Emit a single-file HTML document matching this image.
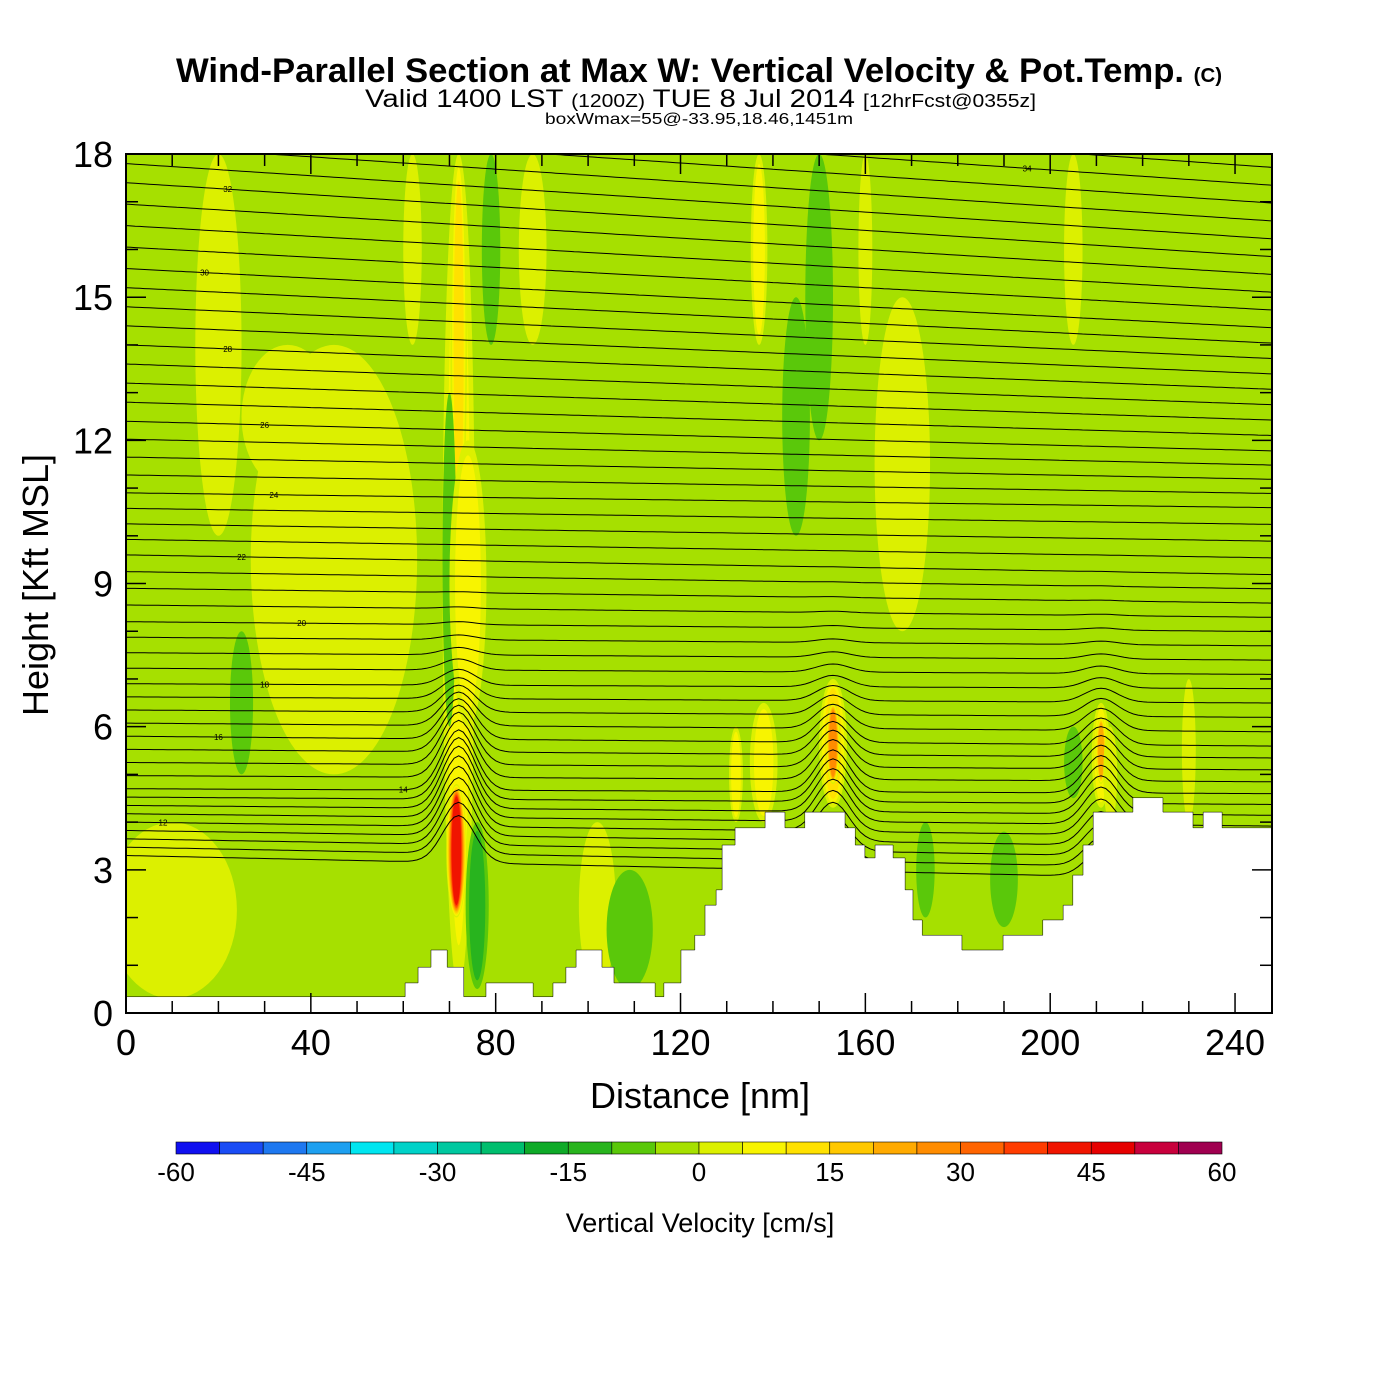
<!DOCTYPE html>
<html><head><meta charset="utf-8"><style>
html,body{margin:0;padding:0;background:#fff;}
svg{display:block;font-family:"Liberation Sans",Arial,sans-serif;}
</style></head><body>
<svg id="chart" width="1400" height="1400" viewBox="0 0 1400 1400" xmlns="http://www.w3.org/2000/svg">
<defs><clipPath id="plotclip"><rect x="126" y="154" width="1146" height="859"/></clipPath></defs>
<text x="176" y="82" font-size="34" font-weight="bold" textLength="1046" lengthAdjust="spacingAndGlyphs">Wind-Parallel Section at Max W: Vertical Velocity &amp; Pot.Temp. <tspan font-size="20">(C)</tspan></text>
<text x="365" y="107" font-size="25" textLength="671" lengthAdjust="spacingAndGlyphs">Valid 1400 LST <tspan font-size="18">(1200Z)</tspan> TUE 8 Jul 2014 <tspan font-size="18">[12hrFcst@0355z]</tspan></text>
<text x="545" y="124" font-size="16" textLength="308" lengthAdjust="spacingAndGlyphs">boxWmax=55@-33.95,18.46,1451m</text>
<g id="plot" clip-path="url(#plotclip)"></g>
<rect x="126" y="154" width="1146" height="859" fill="none" stroke="#000" stroke-width="2"/>
<g id="axes"></g>
<text x="700" y="1108" text-anchor="middle" font-size="36">Distance [nm]</text>
<text transform="translate(48,585) rotate(-90)" text-anchor="middle" font-size="36">Height [Kft MSL]</text>
<g id="colorbar"></g>
<text x="700" y="1232" text-anchor="middle" font-size="27">Vertical Velocity [cm/s]</text>
</svg>
<script>
// ---- data ----
const xTicks=[0,40,80,120,160,200,240];
const yTicks=[0,3,6,9,12,15,18];
const cbLevels=[-60,-55,-50,-45,-40,-35,-30,-25,-20,-15,-10,-5,0,5,10,15,20,25,30,35,40,45,50,55,60];
const cbLabels=[-60,-45,-30,-15,0,15,30,45,60];
const cbColors=["#1010f0","#1a4cf5","#1e78f0","#1ea0f0","#00e6f0","#00d2c8","#00c8a0","#00be6e","#0faa28","#28b41e","#5ac80a","#a6e000","#dcf000","#f8f400","#ffe100","#ffc800","#ffaa00","#ff8c00","#ff6400","#ff3c00","#f01400","#e60000","#c8003c","#a00050"];
const terrainX=[0,60.4,63.2,66,69.5,73.1,77.9,88.1,92.4,95.2,97.4,103,105.6,114.5,116.4,120.1,123.1,125.3,127.7,129,131.8,138.3,142.6,146.9,155.6,157.8,159.9,162.1,166,168.6,170.3,172.3,180.9,189.8,198.4,202.8,204.9,207.1,209.3,217.9,224.4,230.9,233.1,237.2,248];
const terrainH=[0.34,0.63,0.96,1.32,0.96,0.34,0.63,0.34,0.63,0.96,1.32,0.96,0.63,0.34,0.63,1.32,1.63,2.26,2.58,3.52,3.88,4.21,3.88,4.21,3.88,3.52,3.25,3.52,3.25,2.58,1.95,1.63,1.32,1.63,1.95,2.26,2.89,3.52,4.21,4.51,4.21,3.88,4.21,3.88,3.88];
// w features: center distance, bottom kft, top kft, half-width nm, value cm/s
const featX=[10,38,45,20,72,72,76,70,79,62,102,109,138,132,137,145,150,153,153,168,173,190,205,211,211,213,88,25,205,230,160,74,35,71.5];
const featB=[0.3,0.3,5,10,0.5,10,0.5,6,14,14,0.5,0.5,4,4,14,10,12,4.3,4.8,8,2,1.8,14,4.3,4.8,4,14,5,4.5,4,14,6,11,2];
const featT=[4,3,14,18,18,18,4,13,18,18,4,3,6.5,6,18,15,18,7,6.5,15,4,3.8,18,6.5,6.2,6,18,8,6,7,18,12,14,4.8];
const featW=[14,22,18,5,3.5,1.8,2.5,1.5,2,2,4,5,3,1.5,1.8,3,3,3,1.6,6,2,3,2,2,1.2,1.5,3,2.5,2,1.5,1.5,4,10,2.2];
const featV=[3,-2,3,3,8,14,-12,-10,-8,3,3,-8,8,8,10,-8,-8,12,30,3,-10,-10,3,8,25,3,3,-7,-7,3,3,8,3,45];
const thetaLabels=[12,14,16,18,20,22,24,26,28,30,32,34];
const hLeft=[4.0,4.7,5.8,6.9,8.2,9.6,10.9,12.4,14.0,15.6,17.4,19.0];
const hRight=[3.7,4.6,5.6,6.8,8.0,9.2,10.6,11.8,13.1,14.4,15.9,17.4];
const bumpX=[72,153,211];
const bumpAmp=[1.3,0.9,0.8];

// ---- scales ----
const sx=d=>126+d*4.621, sy=h=>1013-h*47.72;
const NS="http://www.w3.org/2000/svg";
function mk(tag,attrs,parent){const e=document.createElementNS(NS,tag);for(const k in attrs)e.setAttribute(k,attrs[k]);parent.appendChild(e);return e;}
function colorFor(v){for(let i=0;i<cbColors.length;i++){if(v<cbLevels[i+1])return cbColors[i];}return cbColors[cbColors.length-1];}
const plot=document.getElementById('plot');
const bg=mk('rect',{x:126,y:154,width:1146,height:859,fill:colorFor(-2)},plot);


featX.forEach((fx,i)=>{
  const v=featV[i];const sign=v>=0?1:-1;
  const steps=[];
  for(let lv=(sign>0?0.1:-5.1);sign>0?lv<v:lv>v;lv+=sign*5)steps.push(lv);
  steps.forEach((lv,k)=>{
    const frac=1-k/Math.max(steps.length,1)*0.6;
    const cy=(featB[i]+featT[i])/2,ry=(featT[i]-featB[i])/2*(0.65+0.35*frac);
    const el=mk('ellipse',{cx:sx(fx),cy:sy(cy),rx:featW[i]*4.621*frac,ry:ry*47.72,fill:colorFor(lv+sign*2)},plot);
    
    
  });
});
const thetaAll=[];
for(let t=10;t<=36;t+=0.5)thetaAll.push(t);
function interp(arr,t){
  const i0=Math.max(0,Math.min(arr.length-2,Math.floor((t-12)/2)));
  const f=(t-thetaLabels[i0])/2;return arr[i0]+(arr[i0+1]-arr[i0])*f;}
function thetaH(t,d){
  const hb=interp(hLeft,t)+(interp(hRight,t)-interp(hLeft,t))*d/240;
  let h=hb;
  bumpX.forEach((bx,j)=>{h+=bumpAmp[j]*Math.exp(-Math.pow((d-bx)/5,2))*Math.exp(-Math.pow((hb-4.3)/2.2,2));});
  return h;}
thetaAll.forEach(t=>{
  let pts=[];for(let d=0;d<=248;d+=1)pts.push(sx(d).toFixed(1)+','+sy(thetaH(t,d)).toFixed(1));
  const pl=mk('polyline',{points:pts.join(' '),fill:'none',stroke:'#000','stroke-width':1},plot);
  
  
});
const labPos=[8,60,20,30,38,25,32,30,22,17,22,195];
thetaLabels.forEach((t,i)=>{
  const d=labPos[i];const tx=mk('text',{x:sx(d),y:sy(thetaH(t,d))+3,'font-size':8,'text-anchor':'middle',fill:'#000'},plot);
  tx.textContent=t;
  
  
});
let tp='M'+sx(0)+','+sy(-1);
terrainX.forEach((x,i)=>{const x2=i<terrainX.length-1?terrainX[i+1]:248;tp+=' L'+sx(x)+','+sy(terrainH[i])+' L'+sx(x2)+','+sy(terrainH[i]);});
tp+=' L'+sx(248)+','+sy(-1)+' Z';
const terr=mk('path',{d:tp,fill:'#fff',stroke:'#000','stroke-width':0.5},plot);


const ax=document.getElementById('axes');
for(let d=0;d<=248;d+=10){const L=d%40===0?20:12;
  mk('line',{x1:sx(d),y1:1013,x2:sx(d),y2:1013-L,stroke:'#000','stroke-width':1.5},ax);
  mk('line',{x1:sx(d),y1:154,x2:sx(d),y2:154+L,stroke:'#000','stroke-width':1.5},ax);}
for(let h=0;h<=18;h+=1){const L=h%3===0?20:12;
  mk('line',{x1:126,y1:sy(h),x2:126+L,y2:sy(h),stroke:'#000','stroke-width':1.5},ax);
  mk('line',{x1:1272,y1:sy(h),x2:1272-L,y2:sy(h),stroke:'#000','stroke-width':1.5},ax);}
xTicks.forEach(d=>{const t=mk('text',{x:sx(d),y:1055,'text-anchor':'middle','font-size':36},ax);t.textContent=d;
  
  });
yTicks.forEach(h=>{const t=mk('text',{x:113,y:sy(h)+13,'text-anchor':'end','font-size':36},ax);t.textContent=h;
  
  });
const cb=document.getElementById('colorbar');const cbx=v=>176+(v+60)/120*1046;
cbColors.forEach((c,i)=>{const r=mk('rect',{x:cbx(cbLevels[i]),y:1142,width:1046/24,height:12,fill:c,stroke:'#000','stroke-width':0.6},cb);
  
  });
cbLabels.forEach(v=>{const t=mk('text',{x:cbx(v),y:1181,'text-anchor':'middle','font-size':26},cb);t.textContent=v;
  
  });
</script>
</body></html>
